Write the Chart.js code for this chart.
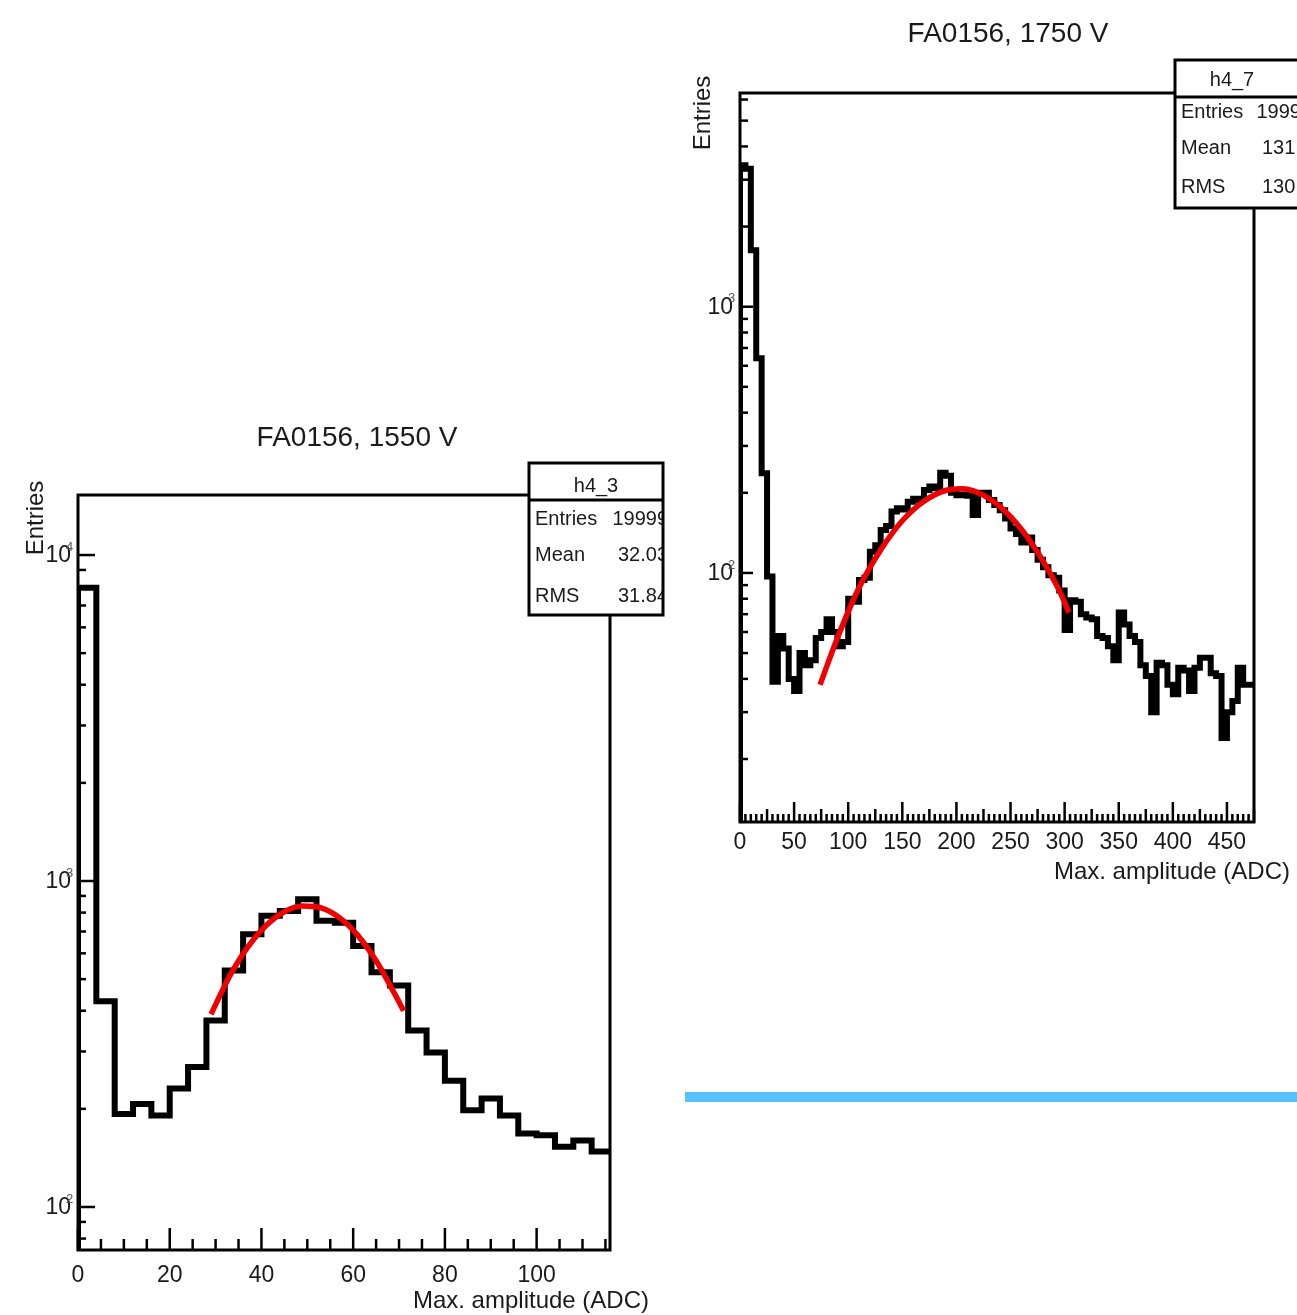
<!DOCTYPE html>
<html>
<head>
<meta charset="utf-8">
<title>FA0156 amplitude spectra</title>
<script src="https://cdn.jsdelivr.net/npm/chart.js@4.4.1/dist/chart.umd.min.js"></script>
<style>
  html, body { margin: 0; background: #fff; }
  #page { position: relative; width: 1297px; height: 1315px; overflow: hidden; background: #fff; }
  #page canvas { position: absolute; left: 0; top: 0; }
  .divider { position: absolute; left: 685px; top: 1092px; width: 612px; height: 10px; background: #56c1fe; }
</style>
</head>
<body>
<div id="page">
  <canvas id="h4_3" width="1297" height="1315"></canvas>
  <canvas id="h4_7" width="1297" height="1315"></canvas>
  <div class="divider"></div>
</div>
<script>
// ---- 1550 V run: 4 ADC wide bins starting at 0 ----
const lowBinWidth = 4;
const lowCounts = [7940, 428, 193, 207, 191, 231, 269, 373, 531, 687,
                   782, 809, 879, 755, 745, 632, 525, 478, 348, 298,
                   244, 198, 215, 191, 168, 166, 153, 160, 148];
// gaussian fit curve, sampled along the drawn line
const lowFitX = [29, 33, 37, 41, 45, 49, 53, 57, 61, 65, 69, 71];
const lowFitY = [390, 509, 627, 730, 805, 838, 827, 772, 681, 569, 452, 400];
const lowXTicks = [0, 20, 40, 60, 80, 100];
const lowYDecades = [100, 1000, 10000];
const lowStatNames = ['Entries', 'Mean', 'RMS'];
const lowStatValues = ['19999', '32.03', '31.84'];

// ---- 1750 V run: 5 ADC wide bins starting at 0 ----
const highBinWidth = 5;
const highCounts = [3400, 3300, 1630, 640, 237, 97, 39, 58, 52, 40,
                    36, 50, 45, 47, 57, 60, 67, 60, 53, 55,
                    80, 78, 94, 96, 120, 127, 145, 150, 170, 175,
                    173, 185, 190, 188, 205, 211, 208, 238, 232, 200,
                    196, 197, 195, 165, 200, 200, 188, 180, 172, 160,
                    147, 140, 130, 136, 122, 112, 105, 98, 96, 86,
                    61, 79, 78, 70, 68, 67, 58, 57, 53, 47,
                    71, 64, 58, 55, 45, 41, 30, 46, 45, 38,
                    35, 44, 43, 36, 44, 48, 48, 42, 41, 24,
                    30, 33, 44, 38, 38];
const highFitX = [74, 90, 110, 130, 150, 170, 190, 205, 220, 240, 260, 280, 295, 304];
const highFitY = [38, 57, 88, 122, 157, 186, 204, 207, 200, 178, 146, 111, 86, 71];
const highXTicks = [0, 50, 100, 150, 200, 250, 300, 350, 400, 450];
const highYDecades = [100, 1000];
const highStatNames = ['Entries', 'Mean', 'RMS'];
const highStatValues = ['19999', '131.5', '130.4'];

const FONT = '"Liberation Sans", Arial, Helvetica, sans-serif';
const INK = '#1a1a1a';

// outline of a histogram: left edges with a closing point at the last right edge
function histOutline(counts, width, floor) {
  const pts = [{ x: 0, y: floor }];
  counts.forEach((c, i) => pts.push({ x: i * width, y: c }));
  pts.push({ x: counts.length * width, y: counts[counts.length - 1] });
  return pts;
}

// ROOT-like pad decoration: frame, inward ticks, labels, titles and stats box
function rootPad(cfg) {
  return {
    id: 'rootPad',
    afterDatasetsDraw(chart) {
      const { ctx, chartArea: a, scales: { x, y } } = chart;
      ctx.save();
      ctx.strokeStyle = '#000';
      ctx.lineWidth = 3;
      ctx.strokeRect(a.left, a.top, a.right - a.left, a.bottom - a.top);

      // x ticks
      ctx.lineWidth = 2.5;
      for (let i = 0; i * cfg.xMinor <= x.max + 1e-6; i++) {
        const v = i * cfg.xMinor;
        let len = cfg.xMinorLen;
        if (cfg.xTicks.includes(v)) len = cfg.xMajorLen;
        else if (cfg.xMid && v % cfg.xMid === 0) len = cfg.xMidLen;
        const px = x.getPixelForValue(v);
        ctx.beginPath();
        ctx.moveTo(px, a.bottom);
        ctx.lineTo(px, a.bottom - len);
        ctx.stroke();
      }
      // y ticks (log decades)
      const e0 = Math.floor(Math.log10(y.min)), e1 = Math.ceil(Math.log10(y.max));
      for (let e = e0; e <= e1; e++) {
        for (let k = 1; k <= 9; k++) {
          const v = k * Math.pow(10, e);
          if (v < y.min || v > y.max) continue;
          const py = y.getPixelForValue(v);
          ctx.beginPath();
          ctx.moveTo(a.left, py);
          ctx.lineTo(a.left + (k === 1 ? cfg.yMajorLen : cfg.yMinorLen), py);
          ctx.stroke();
        }
      }

      // tick labels
      ctx.fillStyle = INK;
      ctx.textBaseline = 'middle';
      ctx.textAlign = 'center';
      ctx.font = `${cfg.tickFont}px ${FONT}`;
      cfg.xTicks.forEach(v => ctx.fillText(String(v), x.getPixelForValue(v), a.bottom + cfg.xLabelGap));
      cfg.yDecades.forEach(d => {
        const py = y.getPixelForValue(d);
        ctx.font = `${cfg.tickFont}px ${FONT}`;
        ctx.textAlign = 'right';
        ctx.fillText('10', a.left - 7, py + 1);
        ctx.font = `${Math.round(cfg.tickFont * 0.55)}px ${FONT}`;
        ctx.textAlign = 'left';
        ctx.fillStyle = '#555';
        ctx.fillText(String(Math.round(Math.log10(d))), a.left - 12, py - 8);
        ctx.fillStyle = INK;
      });

      // axis titles
      ctx.font = `${cfg.axisFont}px ${FONT}`;
      ctx.textAlign = 'right';
      ctx.fillText('Max. amplitude (ADC)', cfg.xTitle[0], cfg.xTitle[1]);
      ctx.save();
      ctx.translate(cfg.yTitle[0], cfg.yTitle[1]);
      ctx.rotate(-Math.PI / 2);
      ctx.textAlign = 'center';
      ctx.fillText('Entries', 0, 0);
      ctx.restore();

      // pad title
      ctx.font = `${cfg.titleFont}px ${FONT}`;
      ctx.textAlign = 'center';
      ctx.fillText(cfg.title, cfg.titleAt[0], cfg.titleAt[1]);

      // stats box
      const [bx0, by0, bx1, by1] = cfg.box;
      ctx.fillStyle = '#fff';
      ctx.fillRect(bx0, by0, bx1 - bx0, by1 - by0);
      ctx.save();
      ctx.beginPath();
      ctx.rect(bx0, by0, bx1 - bx0 - 1, by1 - by0);
      ctx.clip();
      ctx.fillStyle = INK;
      ctx.font = `${cfg.statFont}px ${FONT}`;
      ctx.textAlign = 'center';
      ctx.fillText(cfg.histName, cfg.nameX, cfg.nameY);
      cfg.statNames.forEach((n, i) => {
        ctx.textAlign = 'left';
        ctx.fillText(n, bx0 + 6, cfg.rowY[i]);
        ctx.textAlign = 'right';
        ctx.fillText(cfg.statValues[i], cfg.valueRight, cfg.rowY[i]);
      });
      ctx.restore();
      ctx.strokeStyle = '#000';
      ctx.lineWidth = 3;
      ctx.strokeRect(bx0, by0, bx1 - bx0, by1 - by0);
      ctx.beginPath();
      ctx.moveTo(bx0, cfg.boxSplit);
      ctx.lineTo(bx1, cfg.boxSplit);
      ctx.stroke();
      ctx.restore();
    }
  };
}

function drawPad(id, area, axis, hist, fit, lineWidth, pad) {
  const [left, top, right, bottom] = area;
  const canvas = document.getElementById(id);
  new Chart(canvas.getContext('2d'), {
    type: 'line',
    data: {
      datasets: [
        {
          data: fit,
          borderColor: '#f00000',
          borderWidth: 5.5,
          pointRadius: 0,
          cubicInterpolationMode: 'monotone',
          fill: false
        },
        {
          // each bin's level runs from its own edge to the next one
          data: hist,
          stepped: 'before',
          borderColor: '#000',
          borderWidth: lineWidth,
          borderJoinStyle: 'miter',
          pointRadius: 0,
          fill: false
        }
      ]
    },
    options: {
      responsive: false,
      devicePixelRatio: 1,
      animation: false,
      events: [],
      layout: {
        autoPadding: false,
        padding: { left, top, right: canvas.width - right, bottom: canvas.height - bottom }
      },
      scales: {
        x: { type: 'linear', min: 0, max: axis.xMax, display: false },
        y: { type: 'logarithmic', min: axis.yMin, max: axis.yMax, display: false }
      },
      plugins: { legend: { display: false }, tooltip: { enabled: false }, title: { display: false } }
    },
    plugins: [rootPad(pad)]
  });
}

const toPoints = (xs, ys) => xs.map((v, i) => ({ x: v, y: ys[i] }));

const lowAxis = { xMax: 116, yMin: 73.8, yMax: 15280 };
drawPad('h4_3', [78, 495, 610, 1250], lowAxis,
  histOutline(lowCounts, lowBinWidth, lowAxis.yMin),
  toPoints(lowFitX, lowFitY), 6,
  {
    title: 'FA0156, 1550 V', titleAt: [357, 438], titleFont: 28,
    xTicks: lowXTicks, xMinor: 5, xMid: null, xMajorLen: 22, xMinorLen: 11,
    yDecades: lowYDecades, yMajorLen: 17, yMinorLen: 8,
    tickFont: 23, xLabelGap: 26, axisFont: 24,
    xTitle: [649, 1301], yTitle: [36, 518],
    box: [529, 463, 663, 615], boxSplit: 500, histName: 'h4_3', nameX: 596, nameY: 486,
    statFont: 20, statNames: lowStatNames, statValues: lowStatValues,
    rowY: [519, 555, 596], valueRight: 668
  });

const highAxis = { xMax: 475, yMin: 11.6, yMax: 6350 };
drawPad('h4_7', [740, 93, 1254, 822], highAxis,
  histOutline(highCounts, highBinWidth, highAxis.yMin),
  toPoints(highFitX, highFitY), 6,
  {
    title: 'FA0156, 1750 V', titleAt: [1008, 34], titleFont: 28,
    xTicks: highXTicks, xMinor: 5, xMid: 25, xMajorLen: 20, xMidLen: 13, xMinorLen: 8,
    yDecades: highYDecades, yMajorLen: 13, yMinorLen: 8,
    tickFont: 23, xLabelGap: 21, axisFont: 24,
    xTitle: [1290, 872], yTitle: [703, 113],
    box: [1175, 60, 1330, 208], boxSplit: 97, histName: 'h4_7', nameX: 1232, nameY: 80,
    statFont: 20, statNames: highStatNames, statValues: highStatValues,
    rowY: [112, 148, 187], valueRight: 1312
  });
</script>
</body>
</html>
